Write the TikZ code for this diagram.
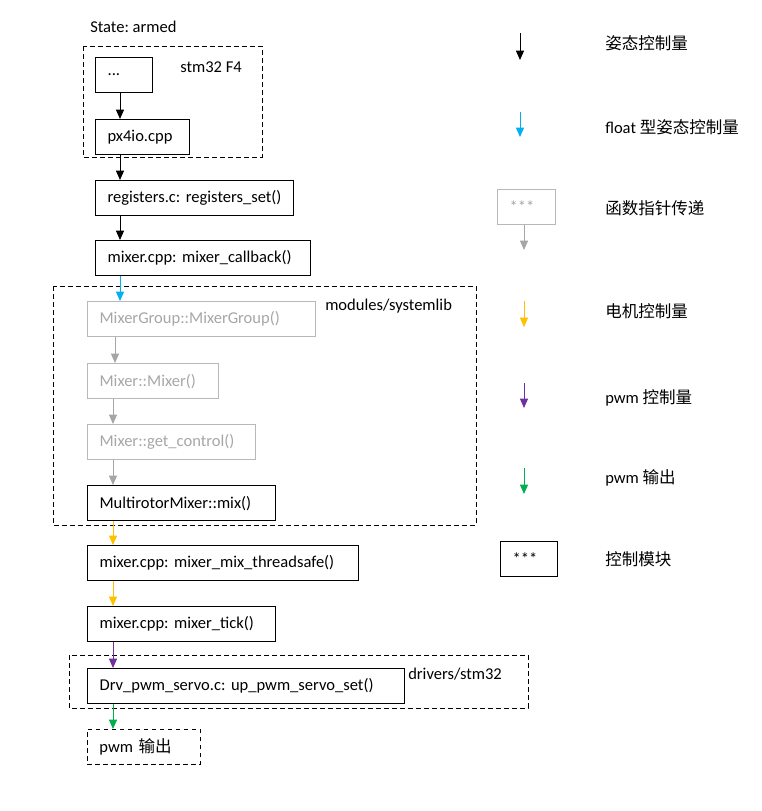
\documentclass[tikz,border=0pt]{standalone}
\usepackage{fontspec}
\setmainfont{Carlito}
\newfontfamily\cjk{Noto Sans CJK SC}
\usetikzlibrary{arrows.meta, positioning}
\definecolor{floatblue}{HTML}{00B0F0}
\definecolor{motoryel}{HTML}{FFC000}
\definecolor{pwmpurple}{HTML}{7030A0}
\definecolor{pwmgreen}{HTML}{00B050}
\definecolor{ptrgray}{HTML}{A6A6A6}
\frenchspacing

\begin{document}
\begin{tikzpicture}[x=0.75pt,y=-0.75pt,>={Triangle[length=7pt,width=6pt]},
      every node/.style={font=\fontsize{12.4}{15}\selectfont},
      blk/.style={draw,line width=0.9pt,anchor=north west,minimum height=26.25pt,
        text width=#1,align=left,inner xsep=9pt,inner ysep=0pt},
      ptr/.style={blk=#1,draw=ptrgray!80,text=ptrgray},
      grp/.style={draw,line width=0.7pt,dash pattern=on 3.5pt off 2.5pt},
      lbl/.style={anchor=west,inner sep=0pt},
      flow/.style={->,line width=0.75pt}]
      \useasboundingbox (0,0) rectangle (762,811);
      % stm32 F4
      \draw[grp] (83,46) rectangle (262,157);
      \node[lbl] (armed) at (90,27) {State: armed};
      \node[lbl] (stmlbl) at (180,67) {stm32 F4};
      \node[blk=24.75pt] (dots) at (95,57) {...};
      \node[blk=52.5pt] (px4io) at (95,119) {px4io.cpp};
      \node[blk=130.5pt] (regs) at (95,180) {\mbox{registers.c: registers\_set()}};
      \node[blk=143.25pt] (cb) at (95,240) {mixer.cpp: mixer\_callback()};
      \foreach \a/\b in {dots/px4io,px4io/regs,regs/cb}
        \draw[flow] ([xshift=18.75pt]\a.south west) -- ([xshift=18.75pt]\a.south west |- \b.north);
      % modules/systemlib
      \draw[grp] (53,286) rectangle (476,525);
      \node[lbl] (modlbl) at (325,306) {modules/systemlib};
      \node[ptr=153pt] (mg) at (87,301) {MixerGroup::MixerGroup()};
      \node[ptr=80.25pt] (mm) at (87,363) {Mixer::Mixer()};
      \node[ptr=108pt] (gc) at (87,424) {Mixer::get\_control()};
      \node[blk=123pt] (mr) at (87,485) {MultirotorMixer::mix()};
      \draw[flow,floatblue] ([xshift=18.75pt]cb.south west) -- ([xshift=18.75pt]cb.south west |- mg.north);
      \draw[flow,ptrgray] ([xshift=21pt]mg.south west) -- ([xshift=21pt]mg.south west |- mm.north);
      \draw[flow,ptrgray] ([xshift=19.5pt]mm.south west) -- ([xshift=19.5pt]mm.south west |- gc.north);
      \draw[flow,ptrgray] ([xshift=19.5pt]gc.south west) -- ([xshift=19.5pt]gc.south west |- mr.north);
      % mixer
      \node[blk=185.25pt] (mt) at (87,545) {mixer.cpp: mixer\_mix\_threadsafe()};
      \node[blk=123pt] (tick) at (87,606) {mixer.cpp: mixer\_tick()};
      \draw[flow,motoryel] ([xshift=19.5pt]mr.south west) -- ([xshift=19.5pt]mr.south west |- mt.north);
      \draw[flow,motoryel] ([xshift=19.5pt]mt.south west) -- ([xshift=19.5pt]mt.south west |- tick.north);
      % drivers/stm32
      \draw[grp] (69,655) rectangle (528,708);
      \node[lbl] (drvlbl) at (408,674) {drivers/stm32};
      \node[blk=219.75pt] (drv) at (87,668) {Drv\_pwm\_servo.c: up\_pwm\_servo\_set()};
      \node[blk=66.75pt,grp] (pwm) at (87,729) {pwm {\cjk 输出}};
      \draw[flow,pwmpurple] ([xshift=19.5pt]tick.south west) -- ([xshift=19.5pt]tick.south west |- drv.north);
      \draw[flow,pwmgreen] ([xshift=19.5pt]drv.south west) -- ([xshift=19.5pt]drv.south west |- pwm.north);
      % legend
      \coordinate (k1a) at (520,33);  \coordinate (k1b) at (520,60);
      \coordinate (k2a) at (520,112); \coordinate (k2b) at (520,137);
      \coordinate (k4a) at (524,301); \coordinate (k4b) at (524,327);
      \coordinate (k5a) at (524,383); \coordinate (k5b) at (524,408);
      \coordinate (k6a) at (524,468); \coordinate (k6b) at (524,494);
      \coordinate (k3b) at (524,250);
      \draw[flow] (k1a) -- (k1b);
      \draw[flow,floatblue] (k2a) -- (k2b);
      \node[ptr=25.5pt] (kptr) at (497,189) {***};
      \draw[flow,ptrgray] (kptr.south -| k3b) -- (k3b);
      \draw[flow,motoryel] (k4a) -- (k4b);
      \draw[flow,pwmpurple] (k5a) -- (k5b);
      \draw[flow,pwmgreen] (k6a) -- (k6b);
      \node[blk=24.75pt] (kblk) at (500,541) {***};
      \node[lbl] (t1) at (605,43) {\cjk 姿态控制量};
      \node[lbl] (t2) at (605,127) {float {\cjk 型姿态控制量}};
      \node[lbl] (t3) at (605,208) {\cjk 函数指针传递};
      \node[lbl] (t4) at (605,311) {\cjk 电机控制量};
      \node[lbl] (t5) at (605,398) {pwm {\cjk 控制量}};
      \node[lbl] (t6) at (605,478) {pwm {\cjk 输出}};
      \node[lbl] (t7) at (605,559) {\cjk 控制模块};
    \end{tikzpicture}
\end{document}
